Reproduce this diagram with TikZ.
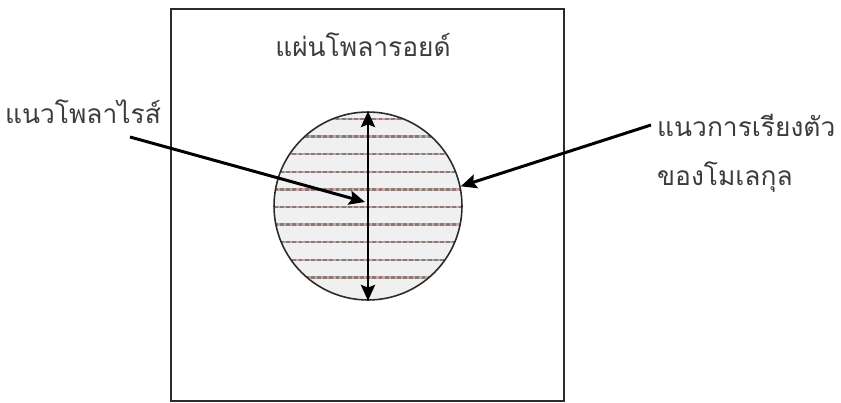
\documentclass[tikz,border=0pt]{standalone}
\usepackage{fontspec}
\newfontfamily\thaifont[Script=Thai]{Loma}
\usetikzlibrary{arrows.meta,positioning}
\definecolor{PlateInk}{HTML}{2B2B2B}
\definecolor{LabelInk}{HTML}{3C3C3C}
\definecolor{DiskBack}{HTML}{F0F0F0}
\definecolor{StripeOlive}{HTML}{7E8270}
\definecolor{StripePink}{HTML}{D49CAC}

\begin{document}
\begin{tikzpicture}[x=0.02cm,y=-0.02cm,font=\thaifont\fontsize{15}{18}\selectfont,text=LabelInk,
  pointer/.style={line width=1.7pt,-{Stealth[length=9pt,width=8pt,inset=1.5pt]}}]
 \useasboundingbox (0,0) rectangle (841,402);
 \draw[PlateInk,line width=1.1pt] (171,9) rectangle (564,401);
 \node (plate) at (363,45) {แผ่นโพลารอยด์};
 % disk with the molecule rows
 \node[circle,draw=PlateInk,line width=0.9pt,fill=DiskBack,minimum size=3.76cm,inner sep=0pt,
   path picture={
    \foreach \k in {0,...,9}{
     \draw[StripePink,line width=1.3pt] ([yshift=-0.14cm-0.352cm*\k]path picture bounding box.north west) -- ([yshift=-0.14cm-0.352cm*\k]path picture bounding box.north east);
     \draw[StripeOlive,line width=1.4pt,dash pattern=on 2.2pt off 1.3pt] ([yshift=-0.14cm-0.352cm*\k]path picture bounding box.north west) -- ([yshift=-0.14cm-0.352cm*\k]path picture bounding box.north east);
    }
   }] (disk) at (368,206) {};
 \draw[line width=1.5pt,{Stealth[length=9pt,width=8pt,inset=1.5pt]}-{Stealth[length=9pt,width=8pt,inset=1.5pt]}] (disk.north) -- (disk.south);
 % labels
 \node (polaxis) at (83,112) {แนวโพลาไรส์};
 \node[anchor=west] (align1) at (651,125) {แนวการเรียงตัว};
 \node[anchor=west] (align2) at (651,177) {ของโมเลกุล};
 \coordinate (polstart) at (130,137);
 \coordinate (polend) at (365,202);
 \draw[pointer] (polstart) -- (polend);
 \draw[pointer] (align1.west) -- (disk.12);
\end{tikzpicture}
\end{document}
